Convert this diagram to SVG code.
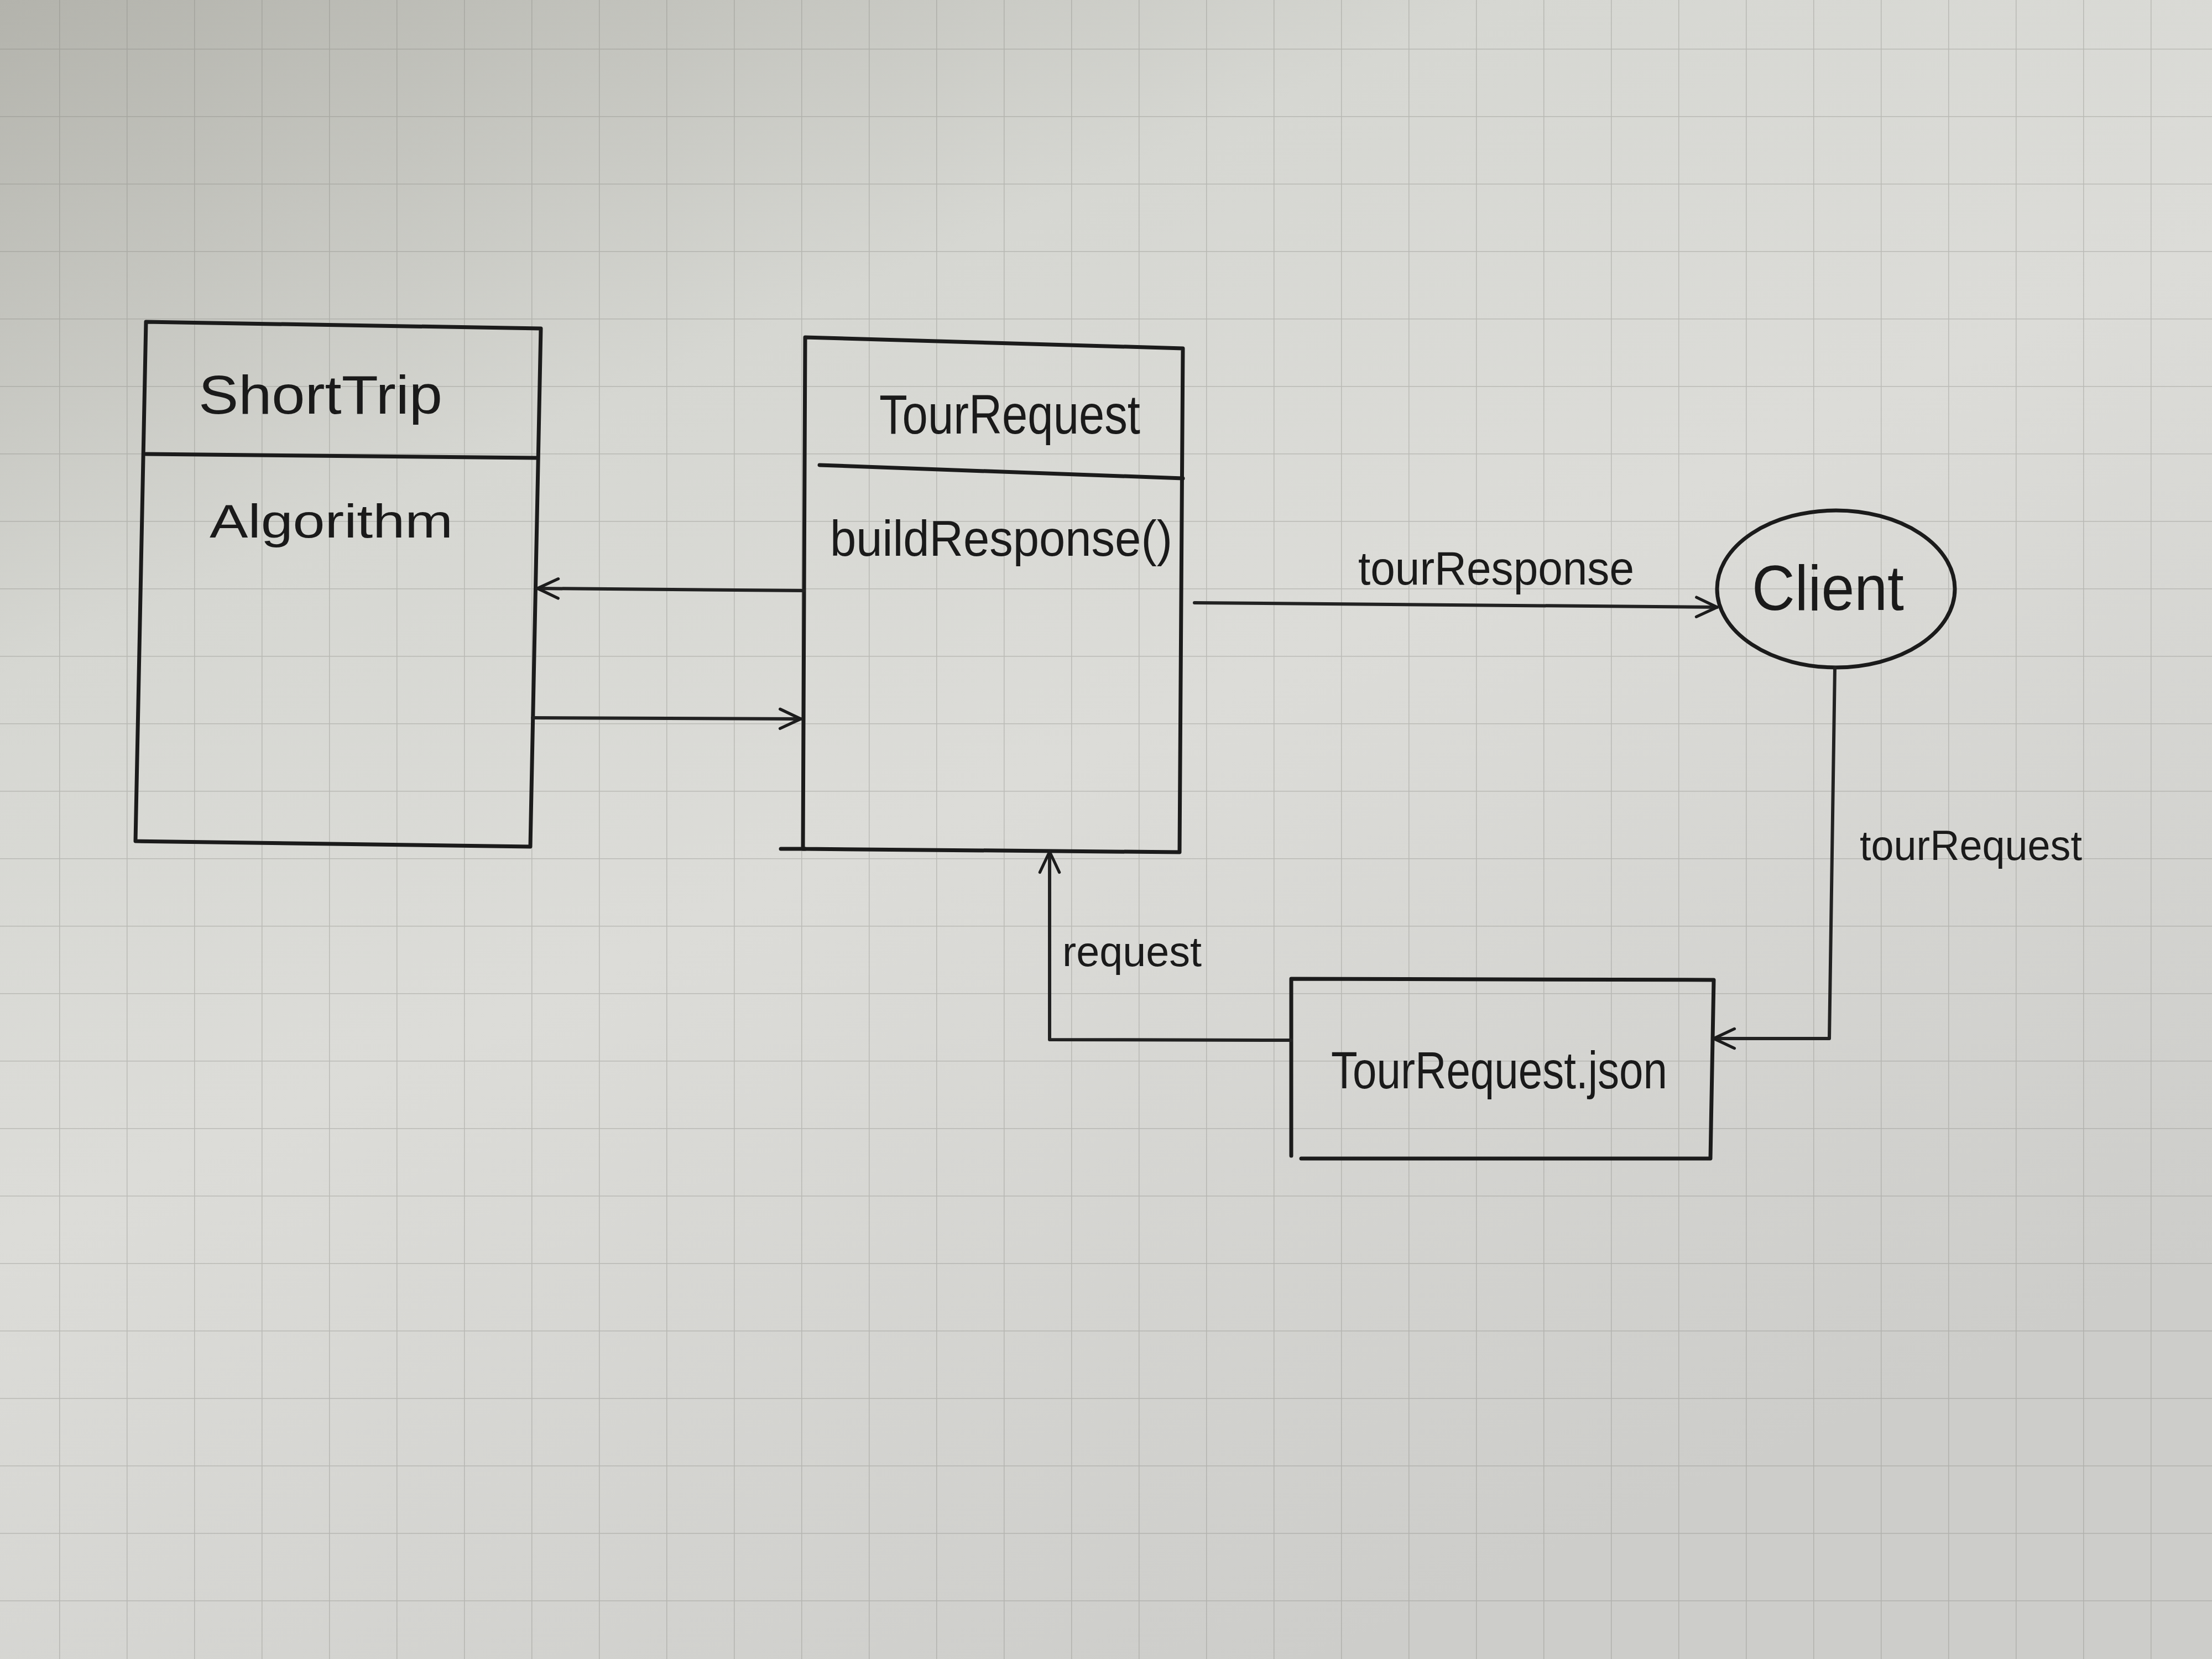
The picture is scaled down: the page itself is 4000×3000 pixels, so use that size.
<svg xmlns="http://www.w3.org/2000/svg" width="4000" height="3000" viewBox="0 0 4000 3000">
<defs>
<linearGradient id="paper" x1="0" y1="0" x2="0.6" y2="1">
<stop offset="0" stop-color="#b3b3ac"/>
<stop offset="0.3" stop-color="#d6d7d2"/>
<stop offset="0.55" stop-color="#dcdcd8"/>
<stop offset="1" stop-color="#cdcdca"/>
</linearGradient>
<pattern id="grid" x="107" y="88" width="122" height="122" patternUnits="userSpaceOnUse">
<path d="M0,0 V122 M0,0 H122" fill="none" stroke="#7d7d78" stroke-opacity="0.35" stroke-width="3"/>
</pattern>
<marker id="open" viewBox="0 0 20 20" refX="19" refY="10" markerWidth="44" markerHeight="44" markerUnits="userSpaceOnUse" orient="auto">
<path d="M2,2 L19,10 L2,18" fill="none" stroke="#1c1c1c" stroke-width="2.4" stroke-linecap="round" stroke-linejoin="round"/>
</marker>
</defs>
<style>
.ink{fill:none;stroke:#1b1b1b;stroke-width:7;stroke-linecap:round;stroke-linejoin:round}
.conn{fill:none;stroke:#222;stroke-width:6;stroke-linecap:round;stroke-linejoin:round}
.lbl{font-family:"Liberation Sans","DejaVu Sans",sans-serif;fill:#1a1a1a}
</style>
<rect x="0" y="0" width="4000" height="3000" fill="url(#paper)"/>
<rect x="0" y="0" width="4000" height="3000" fill="url(#grid)"/>

<g id="ShortTrip">
<path class="ink" d="M264,582 L978,594 L959,1531 L245,1521 Z"/>
<path class="ink" d="M264,821 L970,828"/>
<text class="lbl" x="359" y="748" font-size="98" textLength="441" lengthAdjust="spacingAndGlyphs">ShortTrip</text>
<text class="lbl" x="379" y="972" font-size="86" textLength="440" lengthAdjust="spacingAndGlyphs">Algorithm</text>
</g>

<g id="TourRequest">
<path class="ink" d="M1456,610 L2139,630 L2133,1541 L1452,1535 Z"/>
<path class="ink" d="M1412,1535 L1456,1535"/>
<path class="ink" d="M1482,841 L2139,865"/>
<text class="lbl" x="1590" y="784" font-size="100" textLength="472" lengthAdjust="spacingAndGlyphs">TourRequest</text>
<text class="lbl" x="1501" y="1005" font-size="90" textLength="619" lengthAdjust="spacingAndGlyphs">buildResponse()</text>
</g>

<g id="Client">
<ellipse class="ink" cx="3320" cy="1065" rx="215" ry="142"/>
<text class="lbl" x="3168" y="1103" font-size="115" textLength="275" lengthAdjust="spacingAndGlyphs">Client</text>
</g>

<g id="TourRequestJson">
<path class="ink" d="M2335,1770 L3099,1772 L3093,2095 L2353,2095 M2335,1770 L2335,2090"/>
<text class="lbl" x="2407" y="1968" font-size="95" textLength="608" lengthAdjust="spacingAndGlyphs">TourRequest.json</text>
</g>

<g id="connectors">
<path class="conn" d="M1454,1068 L972,1064" marker-end="url(#open)"/>
<path class="conn" d="M963,1298 L1448,1300" marker-end="url(#open)"/>
<path class="conn" d="M2160,1090 L3105,1098" marker-end="url(#open)"/>
<path class="conn" d="M3318,1207 L3308,1878 L3099,1878" marker-end="url(#open)"/>
<path class="conn" d="M2335,1881 L1898,1880 L1898,1540" marker-end="url(#open)"/>
<text class="lbl" x="2456" y="1057" font-size="85" textLength="499" lengthAdjust="spacingAndGlyphs">tourResponse</text>
<text class="lbl" x="3363" y="1555" font-size="76" textLength="402" lengthAdjust="spacingAndGlyphs">tourRequest</text>
<text class="lbl" x="1921" y="1747" font-size="76" textLength="252" lengthAdjust="spacingAndGlyphs">request</text>
</g>
</svg>
